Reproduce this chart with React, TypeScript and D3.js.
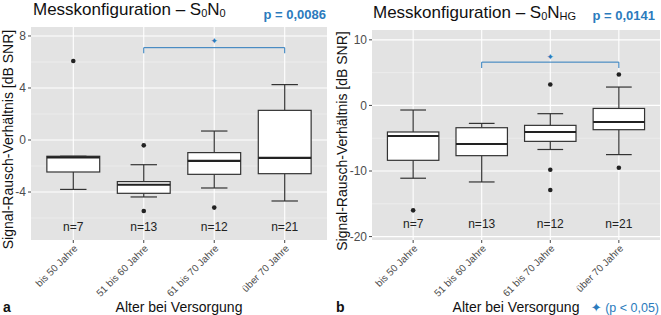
import React from 'react';
import * as d3 from 'd3';

const groups = ["bis 50 Jahre", "51 bis 60 Jahre", "61 bis 70 Jahre", "über 70 Jahre"];
const counts = [7, 13, 12, 21];

// panel a: S0N0
const lowA = [-3.8, -4.38, -3.69, -4.69];
const q1A = [-2.46, -4.1, -2.64, -2.59];
const medA = [-1.33, -3.44, -1.6, -1.38];
const q3A = [-1.25, -3.2, -0.97, 2.28];
const highA = [-1.25, -1.9, 0.69, 4.26];
const outA = [[6.08], [-0.41, -5.46], [-5.2], []];
const ticksA = [-4, 0, 4, 8];

// panel b: S0NHG
const lowB = [-11.1, -11.67, -6.72, -7.5];
const q1B = [-8.37, -7.66, -5.48, -3.7];
const medB = [-4.66, -5.88, -4.05, -2.53];
const q3B = [-4.05, -3.4, -3.04, -0.46];
const highB = [-0.7, -2.74, -1.26, 2.8];
const outB = [[-16.0], [], [3.2, -9.8, -12.9], [4.72, -9.5]];
const ticksB = [-20, -10, 0, 10];

const font = "'Liberation Sans', Arial, Helvetica, sans-serif";
const blue = "#2b7bbd";

type PanelProps = {
  x0: number; x1: number; y0: number; y1: number;
  domain: [number, number];
  ticks: number[];
  low: number[]; q1: number[]; med: number[]; q3: number[]; high: number[];
  out: number[][];
  nY: number;
  bracket: [number, number, number]; // bar, tip, star
  yTitleX: number;
};

function Panel(p: PanelProps) {
  // discrete axis with ggplot's 0.6 expansion on each side
  const step = (p.x1 - p.x0) / (groups.length + 0.2);
  const x = d3.scalePoint<string>().domain(groups).range([p.x0 + 0.6 * step, p.x1 - 0.6 * step]);
  const cx = (i: number) => x(groups[i]) as number;
  const y = d3.scaleLinear().domain(p.domain).range([p.y1, p.y0]);
  const d = p.ticks[1] - p.ticks[0];
  const minor = [p.ticks[0] - d / 2, ...p.ticks.map(t => t + d / 2)];
  const bw = step * 0.75;
  const cw = bw * 0.5;
  return (
    <g>
      <rect x={p.x0} y={p.y0} width={p.x1 - p.x0} height={p.y1 - p.y0} fill="#e3e3e3" />
      {minor.filter(v => y(v) > p.y0 && y(v) < p.y1).map(v => (
        <line key={'m' + v} x1={p.x0} x2={p.x1} y1={y(v)} y2={y(v)} stroke="#f2f2f2" strokeWidth={0.6} />
      ))}
      {p.ticks.map(v => (
        <line key={'g' + v} x1={p.x0} x2={p.x1} y1={y(v)} y2={y(v)} stroke="#fff" strokeWidth={1.1} />
      ))}
      {groups.map((g, i) => (
        <line key={'v' + g} x1={cx(i)} x2={cx(i)} y1={p.y0} y2={p.y1} stroke="#fff" strokeWidth={1.1} />
      ))}
      {p.ticks.map(v => (
        <g key={'t' + v}>
          <line x1={p.x0 - 3} x2={p.x0} y1={y(v)} y2={y(v)} stroke="#444" strokeWidth={1} />
          <text x={p.x0 - 5} y={y(v)} dy="0.35em" textAnchor="end" fontSize={12} fill="#4d4d4d">{v}</text>
        </g>
      ))}
      {groups.map((g, i) => (
        <g key={'b' + g}>
          <line x1={cx(i)} x2={cx(i)} y1={y(p.high[i])} y2={y(p.q3[i])} stroke="#333" strokeWidth={1.2} />
          <line x1={cx(i)} x2={cx(i)} y1={y(p.q1[i])} y2={y(p.low[i])} stroke="#333" strokeWidth={1.2} />
          <line x1={cx(i) - cw / 2} x2={cx(i) + cw / 2} y1={y(p.high[i])} y2={y(p.high[i])} stroke="#333" strokeWidth={1.2} />
          <line x1={cx(i) - cw / 2} x2={cx(i) + cw / 2} y1={y(p.low[i])} y2={y(p.low[i])} stroke="#333" strokeWidth={1.2} />
          <rect x={cx(i) - bw / 2} y={y(p.q3[i])} width={bw} height={y(p.q1[i]) - y(p.q3[i])} fill="#fff" stroke="#333" strokeWidth={1.2} />
          <line x1={cx(i) - bw / 2} x2={cx(i) + bw / 2} y1={y(p.med[i])} y2={y(p.med[i])} stroke="#222" strokeWidth={2.2} />
          {p.out[i].map((o, j) => (
            <circle key={j} cx={cx(i)} cy={y(o)} r={2.3} fill="#222" />
          ))}
          <text x={cx(i)} y={y(p.nY)} dy="0.35em" textAnchor="middle" fontSize={12} fill="#222">n={counts[i]}</text>
          <line x1={cx(i)} x2={cx(i)} y1={p.y1} y2={p.y1 + 3} stroke="#444" strokeWidth={1} />
          <text transform={`translate(${cx(i) + 5},${p.y1 + 9}) rotate(-45)`} textAnchor="end" fontSize={10} fill="#4d4d4d">{g}</text>
        </g>
      ))}
      <path d={`M${cx(1)},${y(p.bracket[1])}V${y(p.bracket[0])}H${cx(3)}V${y(p.bracket[1])}`} fill="none" stroke={blue} strokeWidth={1} />
      <text x={(cx(1) + cx(3)) / 2} y={y(p.bracket[2])} dy="0.35em" textAnchor="middle" fontSize={9} fill={blue} fontFamily="'DejaVu Sans', sans-serif">✦</text>
      <text transform={`translate(${p.yTitleX},${(p.y0 + p.y1) / 2 + 6}) rotate(-90)`} textAnchor="middle" dy="0.35em" fontSize={14} fill="#111">Signal-Rausch-Verhältnis [dB SNR]</text>
      <text x={(p.x0 + p.x1) / 2} y={312} textAnchor="middle" fontSize={14} fill="#111">Alter bei Versorgung</text>
    </g>
  );
}

export default function App() {
  return (
    <div style={{ position: 'absolute', left: 0, top: 0 }}>
      <svg width={661} height={315} style={{ display: 'block', fontFamily: font, background: '#fff' }}>
        <Panel x0={31} x1={327} y0={27} y1={240} domain={[-7.69, 8.69]} ticks={ticksA}
          low={lowA} q1={q1A} med={medA} q3={q3A} high={highA} out={outA} nY={-6.7}
          bracket={[7.1, 6.67, 7.6]} yTitleX={8} />
        <Panel x0={372} x1={660} y0={30} y1={240} domain={[-20.52, 11.5]} ticks={ticksB}
          low={lowB} q1={q1B} med={medB} q3={q3B} high={highB} out={outB} nY={-18.1}
          bracket={[6.6, 5.7, 7.46]} yTitleX={342} />
        <text x={33} y={15} fontSize={17} fill="#111">Messkonfiguration – S<tspan fontSize={11} dy={2}>0</tspan><tspan dy={-2}>N</tspan><tspan fontSize={11} dy={2}>0</tspan></text>
        <text x={326} y={19} textAnchor="end" fontSize={13} fontWeight="bold" fill={blue}>p = 0,0086</text>
        <text x={373} y={18} fontSize={17} fill="#111">Messkonfiguration – S<tspan fontSize={11} dy={2}>0</tspan><tspan dy={-2}>N</tspan><tspan fontSize={11} dy={2}>HG</tspan></text>
        <text x={655} y={20} textAnchor="end" fontSize={13} fontWeight="bold" fill={blue}>p = 0,0141</text>
        <text x={3} y={312} fontSize={14} fontWeight="bold" fill="#111">a</text>
        <text x={336} y={312} fontSize={14} fontWeight="bold" fill="#111">b</text>
        <text x={659} y={312} textAnchor="end" fontSize={12.5} fill={blue}><tspan fontFamily="'DejaVu Sans', sans-serif" fontSize={13}>✦</tspan> (p &lt; 0,05)</text>
      </svg>
    </div>
  );
}
